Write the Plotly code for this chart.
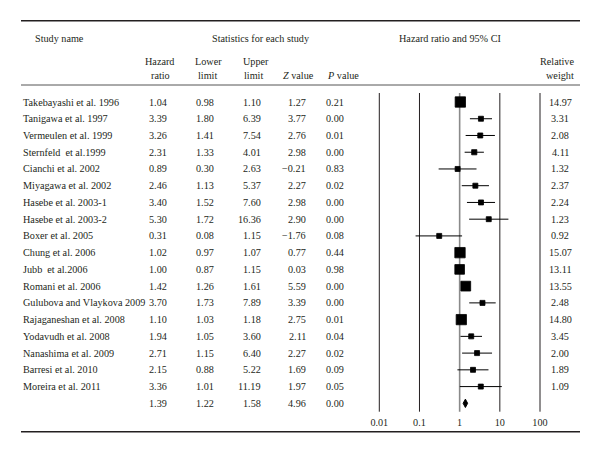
import math
import plotly.graph_objects as go

studies = ["Takebayashi et al. 1996", "Tanigawa et al. 1997", "Vermeulen et al. 1999",
           "Sternfeld\u00a0 et al.1999", "Cianchi et al. 2002", "Miyagawa et al. 2002",
           "Hasebe et al. 2003-1", "Hasebe et al. 2003-2", "Boxer et al. 2005",
           "Chung et al. 2006", "Jubb\u00a0 et al.2006", "Romani et al. 2006",
           "Gulubova and Vlaykova 2009", "Rajaganeshan et al. 2008", "Yodavudh et al. 2008",
           "Nanashima et al. 2009", "Barresi et al. 2010", "Moreira et al. 2011"]
hazard = [1.04, 3.39, 3.26, 2.31, 0.89, 2.46, 3.40, 5.30, 0.31, 1.02, 1.00, 1.42, 3.70, 1.10, 1.94, 2.71, 2.15, 3.36]
lower = [0.98, 1.80, 1.41, 1.33, 0.30, 1.13, 1.52, 1.72, 0.08, 0.97, 0.87, 1.26, 1.73, 1.03, 1.05, 1.15, 0.88, 1.01]
upper = [1.10, 6.39, 7.54, 4.01, 2.63, 5.37, 7.60, 16.36, 1.15, 1.07, 1.15, 1.61, 7.89, 1.18, 3.60, 6.40, 5.22, 11.19]
zval = [1.27, 3.77, 2.76, 2.98, -0.21, 2.27, 2.98, 2.90, -1.76, 0.77, 0.03, 5.59, 3.39, 2.75, 2.11, 2.27, 1.69, 1.97]
pval = [0.21, 0.00, 0.01, 0.00, 0.83, 0.02, 0.00, 0.00, 0.08, 0.44, 0.98, 0.00, 0.00, 0.01, 0.04, 0.02, 0.09, 0.05]
weight = [14.97, 3.31, 2.08, 4.11, 1.32, 2.37, 2.24, 1.23, 0.92, 15.07, 13.11, 13.55, 2.48, 14.80, 3.45, 2.00, 1.89, 1.09]
pooled_hr, pooled_lower, pooled_upper, pooled_z, pooled_p = 1.39, 1.22, 1.58, 4.96, 0.00
axis_ticks = [0.01, 0.1, 1, 10, 100]
axis_tick_labels = ["0.01", "0.1", "1", "10", "100"]

# page body has an 8px default margin: the figure is placed at (8, 8)
OFF = 8
W, H = 592, 444
ROW0, ROWH = 102.0, 16.74
FONT = "Liberation Serif"
FS = 10.2
TXT = "#231f20"


def row_of(px):  # page pixel -> row units
    return (px - ROW0) / ROWH


def py(px):  # page pixel -> paper fraction
    return 1 - (px - OFF) / H


def fx(px):
    return (px - OFF) / W


def fmt(v):
    return f"{v:.2f}".replace("-", "\u2212")


n = len(studies)
fig = go.Figure()

# forest vertical reference lines
ytop, ybot = row_of(93), row_of(411.7)
vx, vy = [], []
for t in axis_ticks:
    if t == 1:
        continue
    vx += [t, t, None]
    vy += [ytop, ybot, None]
fig.add_trace(go.Scatter(x=vx, y=vy, mode="lines", line=dict(color="#231f20", width=1),
                         hoverinfo="skip", showlegend=False))
fig.add_trace(go.Scatter(x=[1, 1], y=[ytop, ybot], mode="lines", line=dict(color="#8a8a8a", width=1.6),
                         hoverinfo="skip", showlegend=False))

# CI lines
cx, cy = [], []
for i in range(n):
    cx += [lower[i], upper[i], None]
    cy += [i, i, None]
fig.add_trace(go.Scatter(x=cx, y=cy, mode="lines", line=dict(color="black", width=1),
                         hoverinfo="skip", showlegend=False))

# squares
sizes = [max(5.0, 2.8 * math.sqrt(w) - 0.5) for w in weight]
fig.add_trace(go.Scatter(x=hazard, y=list(range(n)), mode="markers",
                         marker=dict(symbol="square", size=sizes, color="black", opacity=1,
                                     line=dict(width=0.8, color="black")),
                         hoverinfo="skip", showlegend=False))

# pooled diamond
h = 0.25
fig.add_trace(go.Scatter(x=[pooled_lower, pooled_hr, pooled_upper, pooled_hr, pooled_lower],
                         y=[n, n - h, n, n + h, n], mode="lines", fill="toself",
                         fillcolor="black", line=dict(color="black", width=1),
                         hoverinfo="skip", showlegend=False))

# axis tick labels
fig.add_trace(go.Scatter(x=axis_ticks, y=[row_of(423)] * len(axis_ticks), mode="text",
                         text=axis_tick_labels, textposition="middle center",
                         textfont=dict(family=FONT, size=FS, color=TXT),
                         hoverinfo="skip", showlegend=False, cliponaxis=False))

ann = []


def add(text, xpx, y, anchor="center", yref="y"):
    ann.append(dict(text=text, x=fx(xpx), xref="paper", y=y, yref=yref, xanchor=anchor,
                    yanchor="middle", showarrow=False, font=dict(family=FONT, size=FS, color=TXT)))


for i in range(n):
    add(studies[i], 21, i, "left")
    add(fmt(hazard[i]), 169, i, "right")
    add(fmt(lower[i]), 216, i, "right")
    add(fmt(upper[i]), 263, i, "right")
    add(fmt(zval[i]), 308, i, "right")
    add(fmt(pval[i]), 346, i, "right")
    add(fmt(weight[i]), 560, i, "center")

add(fmt(pooled_hr), 169, n, "right")
add(fmt(pooled_lower), 216, n, "right")
add(fmt(pooled_upper), 263, n, "right")
add(fmt(pooled_z), 308, n, "right")
add(fmt(pooled_p), 346, n, "right")

# headers
add("Study name", 33, py(39), "left", "paper")
add("Statistics for each study", 261, py(39), "center", "paper")
add("Hazard ratio and 95% CI", 450, py(39), "center", "paper")
add("Hazard", 159, py(61), "center", "paper")
add("ratio", 160, py(75), "center", "paper")
add("Lower", 208, py(61), "center", "paper")
add("limit", 207, py(75), "center", "paper")
add("Upper", 256, py(61), "center", "paper")
add("limit", 253, py(75), "center", "paper")
add("<i>Z</i> value", 298, py(75), "center", "paper")
add("<i>P</i> value", 343, py(75), "center", "paper")
add("Relative", 576, py(61), "right", "paper")
add("weight", 576, py(75), "right", "paper")

shapes = [
    dict(type="line", xref="paper", yref="paper", x0=fx(21), x1=fx(580), y0=py(20.7), y1=py(20.7),
         line=dict(color="#231f20", width=1.5)),
    dict(type="line", xref="paper", yref="paper", x0=fx(21), x1=fx(580), y0=py(85), y1=py(85),
         line=dict(color="#555555", width=1)),
    dict(type="line", xref="paper", yref="paper", x0=fx(21), x1=fx(580), y0=py(431.7), y1=py(431.7),
         line=dict(color="#231f20", width=1.5)),
]

ext = 0.1
dec = 40.2
fig.update_layout(
    width=W, height=H, autosize=False,
    margin=dict(l=0, r=0, t=0, b=0, pad=0),
    paper_bgcolor="white", plot_bgcolor="rgba(0,0,0,0)",
    annotations=ann, shapes=shapes,
    xaxis=dict(type="log", range=[-2 - ext, 2 + ext],
               domain=[fx(379.3 - ext * dec), fx(540 + ext * dec)],
               showgrid=False, zeroline=False, showticklabels=False, showline=False, ticks=""),
    yaxis=dict(range=[row_of(H + OFF), row_of(OFF)], domain=[0, 1], showgrid=False, zeroline=False,
               showticklabels=False, showline=False, ticks=""),
)

fig.write_html("out.html")
